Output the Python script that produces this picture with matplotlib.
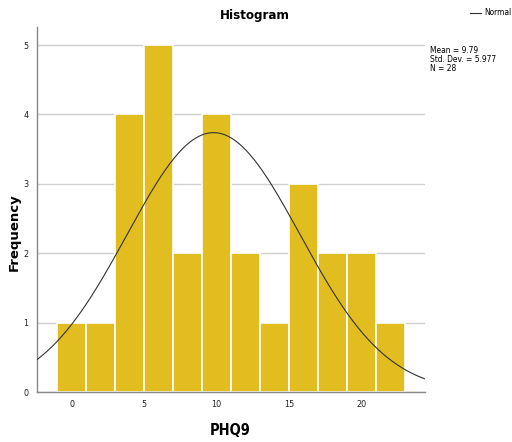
import numpy as np
import matplotlib.pyplot as plt

# PHQ9 histogram: bin edges (width 2) and counts per bin
bin_edges = [-1, 1, 3, 5, 7, 9, 11, 13, 15, 17, 19, 21, 23]
counts = [1, 1, 4, 5, 2, 4, 2, 1, 3, 2, 2, 1]
mean, sd, n = 9.79, 5.977, 28

plt.rcParams['font.family'] = ['DejaVu Sans']
plt.rcParams['font.stretch'] = 'condensed'

fig = plt.figure(figsize=(5.12, 4.42), dpi=100)
ax = fig.add_axes([0.0723, 0.113, 0.758, 0.826])

lefts = np.array(bin_edges[:-1])
widths = np.diff(bin_edges)
ax.bar(lefts, counts, width=widths, align='edge', color='#E1BD20',
       edgecolor='white', linewidth=1.2, zorder=2)

# fitted normal curve, scaled to counts
xs = np.linspace(-2.4, 24.4, 400)
binw = 2
ys = n * binw / (sd * np.sqrt(2 * np.pi)) * np.exp(-0.5 * ((xs - mean) / sd) ** 2)
ax.plot(xs, ys, color='#333333', linewidth=0.8, zorder=3)

ax.set_xlim(-2.4, 24.4)
ax.set_ylim(0, 5.26)
ax.set_xticks([0, 5, 10, 15, 20])
ax.set_yticks([0, 1, 2, 3, 4, 5])
ax.tick_params(length=0, labelsize=6.5, pad=6, colors='#222222')
ax.yaxis.grid(True, color='#d0d0d0', linewidth=1, zorder=0)
ax.set_axisbelow(True)
for s in ['top', 'right']:
    ax.spines[s].set_visible(False)
for s in ['left', 'bottom']:
    ax.spines[s].set_color('#888888')
    ax.spines[s].set_linewidth(1)

fig.text(0.498, 0.965, 'Histogram', ha='center', va='center', fontsize=9.5, fontweight='bold')
fig.text(0.027, 0.475, 'Frequency', ha='center', va='center', rotation=90,
         fontsize=9.5, fontweight='bold', stretch='normal')
fig.text(0.45, 0.027, 'PHQ9', ha='center', va='center', fontsize=10.5, fontweight='semibold')

# legend and summary stats
fig.add_artist(plt.Line2D([0.918, 0.94], [0.971, 0.971], color='#333333', linewidth=0.8))
fig.text(0.945, 0.971, 'Normal', ha='left', va='center', fontsize=6)
fig.text(0.84, 0.895, f'Mean = {mean}\nStd. Dev. = {sd}\nN = {n}',
         ha='left', va='top', fontsize=6, linespacing=1.0)

fig.savefig('out.png', dpi=100)
